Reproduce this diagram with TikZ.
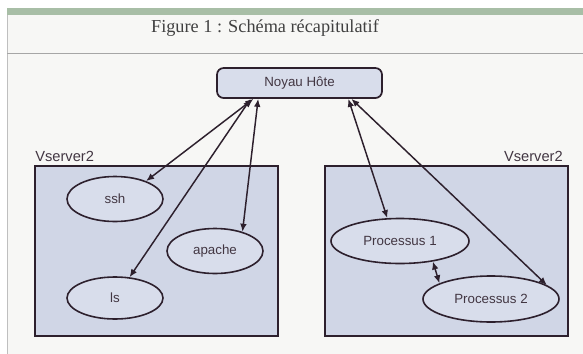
\documentclass[tikz,border=0pt]{standalone}
\usepackage{fontspec}
\setmainfont{Liberation Serif}
\setsansfont{Liberation Sans}
\usetikzlibrary{shapes.geometric,arrows.meta}

\definecolor{trait}{RGB}{45,32,45}
\definecolor{fond}{RGB}{247,247,245}
\definecolor{bandeau}{RGB}{168,190,166}
\definecolor{boite}{RGB}{208,214,230}
\definecolor{bulle}{RGB}{216,221,235}

\tikzset{
    cadre/.style={draw=trait, fill=boite, line width=1.3pt},
    processus/.style={ellipse, draw=trait, fill=bulle, line width=1.2pt, inner sep=0pt,
        font=\sffamily\fontsize{10}{12}\selectfont, text=trait!90},
    fleche/.style={{Latex[length=6pt,width=5pt]}-{Latex[length=6pt,width=5pt]}, draw=trait, line width=1.1pt}
}

\begin{document}
\begin{tikzpicture}[x=0.75pt,y=-0.75pt]
    % Fond et titre
    \useasboundingbox (0,0) rectangle (583,354);
    \fill[fond] (7,8) rectangle (583,354);
    \fill[bandeau] (7,8) rectangle (583,15);
    \draw[gray!50] (7,15) -- (7,354);
    \draw[gray!70] (7,53) -- (583,53);
    \node[anchor=base, text=black!75] (titre) at (265,32) {\fontsize{13.7}{16}\selectfont Figure 1 : Schéma récapitulatif};

    % Noyau
    \node[draw=trait, fill=bulle, line width=1.3pt, rounded corners=5pt,
        minimum width=123.75pt, minimum height=22.5pt, text=trait!90,
        font=\sffamily\fontsize{10}{12}\selectfont] (noyau) at (299.5,83) {Noyau Hôte};

    % Vserver de gauche
    \draw[cadre] (35,166) rectangle (278,336);
    \node[anchor=south west, inner sep=0pt, font=\sffamily\fontsize{11}{13}\selectfont, text=trait!90] (vgauche) at (35,162) {Vserver2};
    \node[processus, minimum width=72pt, minimum height=33.75pt] (ssh) at (115,199) {ssh};
    \node[processus, minimum width=72pt, minimum height=33.75pt] (apache) at (215,251) {apache};
    \node[processus, minimum width=72pt, minimum height=31.5pt] (ls) at (115,298) {ls};

    % Vserver de droite
    \draw[cadre] (325,166) rectangle (568,336);
    \node[anchor=south east, inner sep=0pt, font=\sffamily\fontsize{11}{13}\selectfont, text=trait!90] (vdroite) at (563,162) {Vserver2};
    \node[processus, minimum width=103.5pt, minimum height=33.75pt] (p1) at (400,241) {Processus 1};
    \node[processus, minimum width=102pt, minimum height=34.5pt] (p2) at (491,299) {Processus 2};

    % Liaisons
    \draw[fleche] (noyau.199) -- (ssh.30);
    \draw[fleche] (noyau.198) -- (ls.55);
    \draw[fleche] (noyau.201) -- (apache.35);
    \draw[fleche] (noyau.-18) -- (p1.119);
    \draw[fleche] (noyau.-17.5) -- (p2.14);
    \draw[fleche] (p1.-32) -- (p2.163);
\end{tikzpicture}
\end{document}
